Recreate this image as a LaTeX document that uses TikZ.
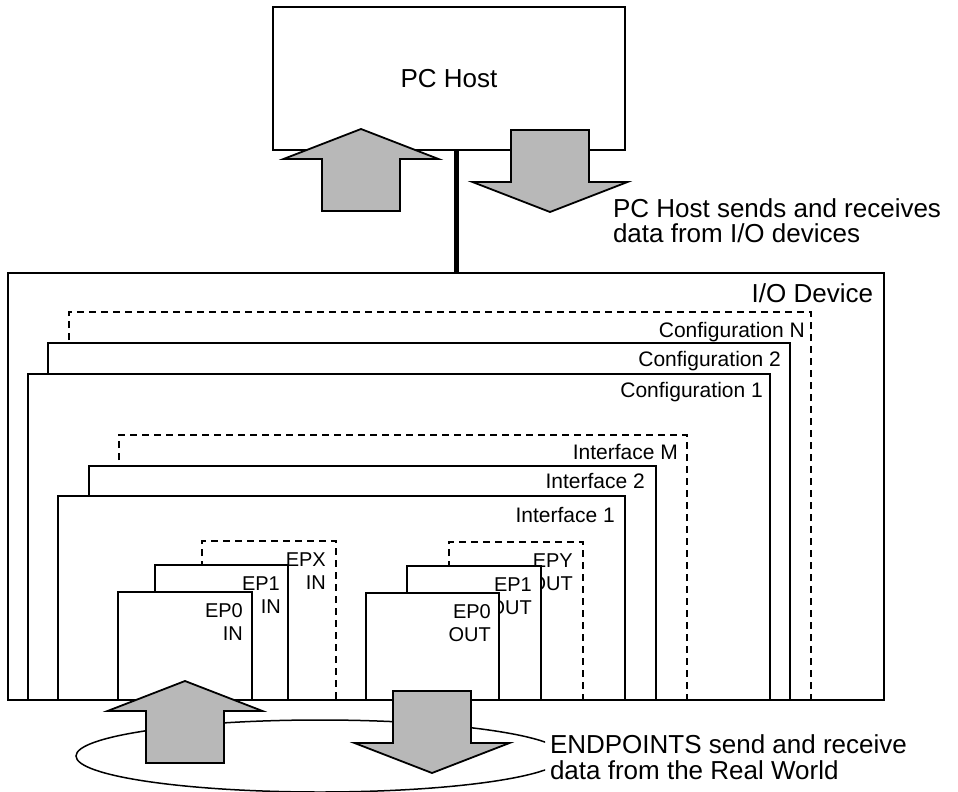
\documentclass[tikz,border=0pt]{standalone}
\usepackage{fontspec}
\setmainfont{Liberation Sans}
\begin{document}
\begin{tikzpicture}[x=1pt,y=-1pt,
  frame/.style={line width=1.5pt},
  dframe/.style={line width=1.3pt, dash pattern=on 7pt off 5pt},
  biglabel/.style={font=\fontsize{26}{30}\selectfont, inner sep=0pt, outer sep=0pt},
  cfglabel/.style={font=\fontsize{21}{24}\selectfont, inner sep=0pt, anchor=base east},
  eplabel/.style={font=\fontsize{20}{23}\selectfont, inner sep=0pt, anchor=base east},
  arrowfill/.style={fill=black!28, draw=black, line width=1.8pt, line join=miter},
  uparrow/.pic={\path[arrowfill] (0,0) -- (77.5,30) -- (39,30) -- (39,82) -- (-39,82) -- (-39,30) -- (-77.5,30) -- cycle;},
  downarrow/.pic={\path[arrowfill] (0,0) -- (77.5,-30) -- (39,-30) -- (39,-82) -- (-39,-82) -- (-39,-30) -- (-77.5,-30) -- cycle;},
]
\useasboundingbox (0,0) rectangle (958,792);

% I/O device
\node[draw, frame, fill=white, minimum width=876pt, minimum height=427pt, inner sep=0pt, outer sep=0pt] (io) at (446,486.5) {};
\node[biglabel, anchor=base east] (iolabel) at (873,302) {I/O Device};

% configurations
\fill[white] (69,312) rectangle (811,700);
\draw[dframe] (69,700) |- (811,312) -- (811,700);
\node[cfglabel] (cfgN) at (805,337.5) {Configuration N};

\fill[white] (48,343) rectangle (790,700);
\draw[frame] (48,700) |- (790,343) -- (790,700);
\node[cfglabel] (cfg2) at (781,366.5) {Configuration 2};

\fill[white] (28,374) rectangle (770,700);
\draw[frame] (28,700) |- (770,374) -- (770,700);
\node[cfglabel] (cfg1) at (763,397.5) {Configuration 1};

% interfaces
\fill[white] (119,435) rectangle (687,700);
\draw[dframe] (119,700) |- (687,435) -- (687,700);
\node[cfglabel] (ifM) at (678,459.5) {Interface M};

\fill[white] (89,466) rectangle (656,700);
\draw[frame] (89,700) |- (656,466) -- (656,700);
\node[cfglabel] (if2) at (645,488.5) {Interface 2};

\fill[white] (58,496) rectangle (625,700);
\draw[frame] (58,700) |- (625,496) -- (625,700);
\node[cfglabel] (if1) at (615,522.5) {Interface 1};

% IN endpoints
\fill[white] (202,541) rectangle (336,700);
\draw[dframe] (202,700) |- (336,541) -- (336,700);
\node[eplabel] (epxA) at (326,566) {EPX};
\node[eplabel] (epxB) at (326,589) {IN};

\fill[white] (155,565) rectangle (288,700);
\draw[frame] (155,700) |- (288,565) -- (288,700);
\node[eplabel] (ep1inA) at (280,590) {EP1};
\node[eplabel] (ep1inB) at (281,613) {IN};

\fill[white] (118,592) rectangle (252,700);
\draw[frame] (118,700) |- (252,592) -- (252,700);
\node[eplabel] (ep0inA) at (243,617) {EP0};
\node[eplabel] (ep0inB) at (243,640) {IN};

% OUT endpoints
\fill[white] (449,542) rectangle (583,700);
\draw[dframe] (449,700) |- (583,542) -- (583,700);
\node[eplabel] (epyA) at (573,567) {EPY};
\node[eplabel] (epyB) at (573,590) {OUT};

\fill[white] (407,566) rectangle (541,700);
\draw[frame] (407,700) |- (541,566) -- (541,700);
\node[eplabel] (ep1outA) at (532,591) {EP1};
\node[eplabel] (ep1outB) at (532,614) {OUT};

\fill[white] (366,593) rectangle (499,700);
\draw[frame] (366,700) |- (499,593) -- (499,700);
\node[eplabel] (ep0outA) at (491,618) {EP0};
\node[eplabel] (ep0outB) at (491,641) {OUT};

% bottom edge of the device
\draw[line width=2.2pt] (io.south west) -- (io.south east);

% real world ellipse
\begin{scope}
  \clip (0,702) rectangle (545,792);
  \draw[line width=1.5pt] (320,756) ellipse [x radius=244, y radius=36];
\end{scope}

% endpoint arrows
\pic at (185,681) {uparrow};
\pic at (432,773) {downarrow};

% PC host
\node[draw, frame, fill=white, minimum width=352pt, minimum height=143pt, inner sep=0pt, outer sep=0pt, font=\fontsize{26}{30}\selectfont] (pchost) at (449,78.5) {PC Host};
\draw[line width=5pt] ([xshift=7pt]pchost.south) -- ([xshift=7pt]pchost.south |- io.north);

\pic at (361,129) {uparrow};
\pic at (550,212) {downarrow};

% notes
\node[biglabel, anchor=base west] (hostnote1) at (613,217) {PC Host sends and receives};
\node[biglabel, anchor=base west] (hostnote2) at (613,242) {data from I/O devices};
\node[biglabel, anchor=base west] (epnote1) at (550,753) {ENDPOINTS send and receive};
\node[biglabel, anchor=base west] (epnote2) at (550,779) {data from the Real World};
\end{tikzpicture}
\end{document}
